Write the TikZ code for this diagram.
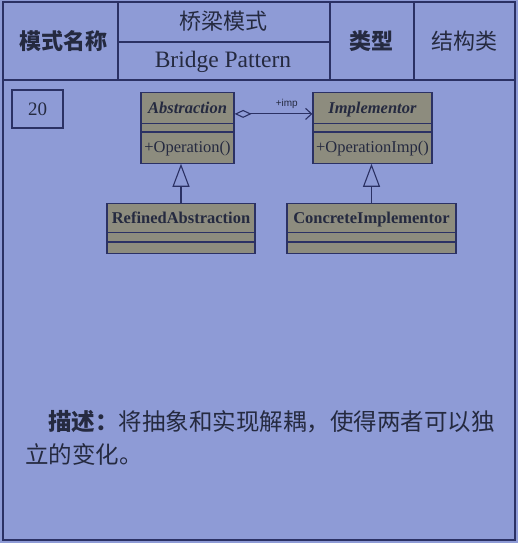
\documentclass[tikz,border=0pt]{standalone}
\usepackage{fontspec}
\setmainfont{Liberation Serif}
\newfontfamily\cjk{Noto Sans CJK SC}
\newfontfamily\umlsans{Liberation Sans}
\usepackage{tikz}
\usetikzlibrary{arrows.meta, shapes.multipart}
\definecolor{cardblue}{HTML}{8E9BD6}
\definecolor{inkline}{HTML}{2B3164}
\definecolor{inktext}{HTML}{252A40}
\definecolor{umlfill}{HTML}{8D8C7E}
\newcommand\namestrut{\rule[-10pt]{0pt}{30pt}}

\begin{document}
\begin{tikzpicture}[x=1pt, y=-1pt,
    every node/.style={text=inktext},
    cell/.style={font=\cjk\fontsize{22}{22}\selectfont, inner sep=0pt},
    numbox/.style={draw=inkline, line width=1.3pt, minimum width=51, minimum height=38,
        inner sep=0pt, font=\fontsize{19}{19}\selectfont},
    umlclass/.style={rectangle split, rectangle split parts=3, draw=inkline, fill=umlfill,
        line width=1.2pt, inner sep=0pt, align=center, anchor=north,
        font=\fontsize{16.5}{16.5}\selectfont},
    assoc/.style={draw=inkline, line width=1.1pt,
        {Diamond[open, length=17pt, width=8pt]}-{Straight Barb[length=6pt, width=11pt]}},
    inherit/.style={draw=inkline, line width=1.1pt, -{Triangle[open, length=23pt, width=17pt]}},
    desc/.style={font=\cjk\fontsize{23.5}{34}\selectfont, inner sep=0pt, anchor=base west}
]
% card and header grid
\fill[cardblue] (0,0) rectangle (518,543);
\draw[inkline, line width=1.6pt] (3,2) rectangle (515,540);
\draw[inkline, line width=1.4pt] (3,80) -- (515,80)
    (118,2) -- (118,80) (330,2) -- (330,80) (414,2) -- (414,80)
    (118,42) -- (330,42);

\node[cell, font=\cjk\bfseries\fontsize{22}{22}\selectfont] (hdname) at (63,41) {模式名称};
\node[cell] (hdcn) at (223,21) {桥梁模式};
\node[cell, font=\fontsize{23.5}{23.5}\selectfont] (hden) at (223,62) {Bridge Pattern};
\node[cell, font=\cjk\bfseries\fontsize{22}{22}\selectfont] (hdtype) at (371,41) {类型};
\node[cell] (hdkind) at (464,41) {结构类};

\node[numbox] (num) at (37.5,109) {20};

% class diagram
\node[umlclass, text width=93pt] (abs) at (187.5,92)
    {\namestrut\textbf{\textit{Abstraction}}\nodepart{two}\rule{0pt}{7pt}\nodepart{three}\namestrut+Operation()};
\node[umlclass, text width=119pt] (impl) at (372.5,92)
    {\namestrut\textbf{\textit{Implementor}}\nodepart{two}\rule{0pt}{7pt}\nodepart{three}\namestrut+OperationImp()};
\node[umlclass, text width=148pt] (refabs) at (181,203)
    {\rule[-9pt]{0pt}{28pt}\textbf{RefinedAbstraction}\nodepart{two}\rule{0pt}{8pt}\nodepart{three}\rule{0pt}{10pt}};
\node[umlclass, text width=169pt] (concimpl) at (371.5,203)
    {\rule[-9pt]{0pt}{28pt}\textbf{ConcreteImplementor}\nodepart{two}\rule{0pt}{8pt}\nodepart{three}\rule{0pt}{10pt}};

\draw[assoc] ([yshift=14pt]abs.east) --
    node[pos=0.67, above=1pt, font=\umlsans\fontsize{10}{10}\selectfont] (implab) {+imp}
    ([yshift=14pt]impl.west);
\draw[inherit] (refabs.north) -- (refabs.north |- abs.south);
\draw[inherit] (concimpl.north) -- (concimpl.north |- impl.south);

% description
\node[desc] (desc1) at (48,430) {\textbf{描述：}将抽象和实现解耦，使得两者可以独};
\node[desc] (desc2) at (25,463) {立的变化。};
\end{tikzpicture}
\end{document}
